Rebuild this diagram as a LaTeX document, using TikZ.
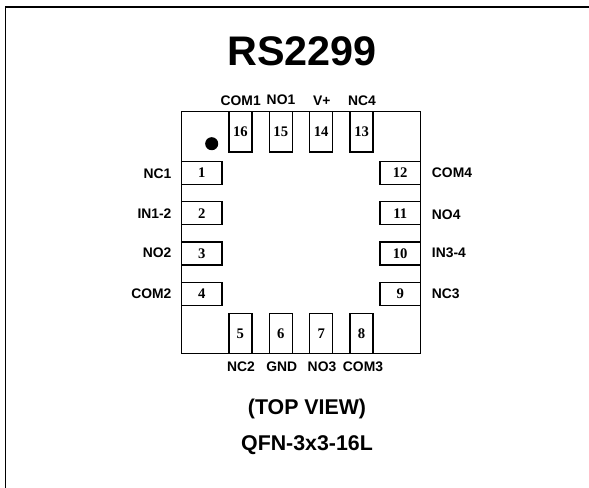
\documentclass[tikz,border=0pt]{standalone}
\usepackage{fontspec}
\setmainfont{Liberation Sans}
\newfontfamily\pinfont{Liberation Serif}
\begin{document}
\begin{tikzpicture}[x=.75pt, y=-.75pt,
    hpin/.style={draw, line width=1.1pt, fill=white, minimum width=30.2pt, minimum height=17.2pt, inner sep=0pt, font=\pinfont\bfseries\fontsize{11}{12}\selectfont},
    vpin/.style={draw, line width=1.1pt, fill=white, minimum width=17.2pt, minimum height=30.2pt, inner sep=0pt, font=\pinfont\bfseries\fontsize{11}{12}\selectfont},
    sig/.style={inner sep=0pt, font=\bfseries\fontsize{10.4}{12}\selectfont},
    caption/.style={inner sep=0pt, font=\bfseries\fontsize{16}{18}\selectfont}]
    \useasboundingbox (0,0) rectangle (589,488);
    % frame, open at right and bottom
    \draw[line width=1.4pt] (5.5,488)--(5.5,7)--(589,7);
    \node[inner sep=0pt, font=\bfseries\fontsize{31}{34}\selectfont] (title) at (302,51){RS2299};
    % package
    \node[draw, line width=1.1pt, minimum width=179pt, minimum height=181.5pt, inner sep=0pt] (body) at (300.9,232.7){};
    \node[circle, fill, minimum size=9.8pt, inner sep=0pt] (dot) at (211.7,143.7){};
    % left side
    \node[hpin] (1) at (201.7,172.8){1};
    \node[hpin] (2) at (201.7,213.2){2};
    \node[hpin] (3) at (201.7,253.6){3};
    \node[hpin] (4) at (201.7,294){4};
    \node[sig, anchor=east] (nc1) at (171.7,174){NC1};
    \node[sig, anchor=east] (in12) at (171.7,214){IN1-2};
    \node[sig, anchor=east] (no2) at (171.7,253){NO2};
    \node[sig, anchor=east] (com2) at (171.7,293.5){COM2};
    % bottom side
    \node[vpin] (5) at (240.4,333.5){5};
    \node[vpin] (6) at (280.8,333.5){6};
    \node[vpin] (7) at (321.2,333.5){7};
    \node[vpin] (8) at (361.6,333.5){8};
    \node[sig] (nc2) at (241,366.5){NC2};
    \node[sig] (gnd) at (281.7,366.5){GND};
    \node[sig] (no3) at (322,366.5){NO3};
    \node[sig] (com3) at (363,366.5){COM3};
    % right side
    \node[hpin] (9) at (400.2,294){9};
    \node[hpin] (10) at (400.2,253.6){10};
    \node[hpin] (11) at (400.2,213.2){11};
    \node[hpin] (12) at (400.2,172.8){12};
    \node[sig, anchor=west] (nc3) at (431.7,293.5){NC3};
    \node[sig, anchor=west] (in34) at (431.7,253){IN3-4};
    \node[sig, anchor=west] (no4) at (431.7,214.5){NO4};
    \node[sig, anchor=west] (com4) at (431.7,173){COM4};
    % top side
    \node[vpin] (13) at (361.6,131.7){13};
    \node[vpin] (14) at (321.2,131.7){14};
    \node[vpin] (15) at (280.8,131.7){15};
    \node[vpin] (16) at (240.4,131.7){16};
    \node[sig] (nc4) at (362,100.5){NC4};
    \node[sig] (vp) at (321.7,100.5){V+};
    \node[sig] (no1) at (281,99.5){NO1};
    \node[sig] (com1) at (240.7,100.5){COM1};
    % captions
    \node[caption] (view) at (307,409){(TOP VIEW)};
    \node[caption] (pkg) at (307,445.5){QFN-3x3-16L};
\end{tikzpicture}
\end{document}
